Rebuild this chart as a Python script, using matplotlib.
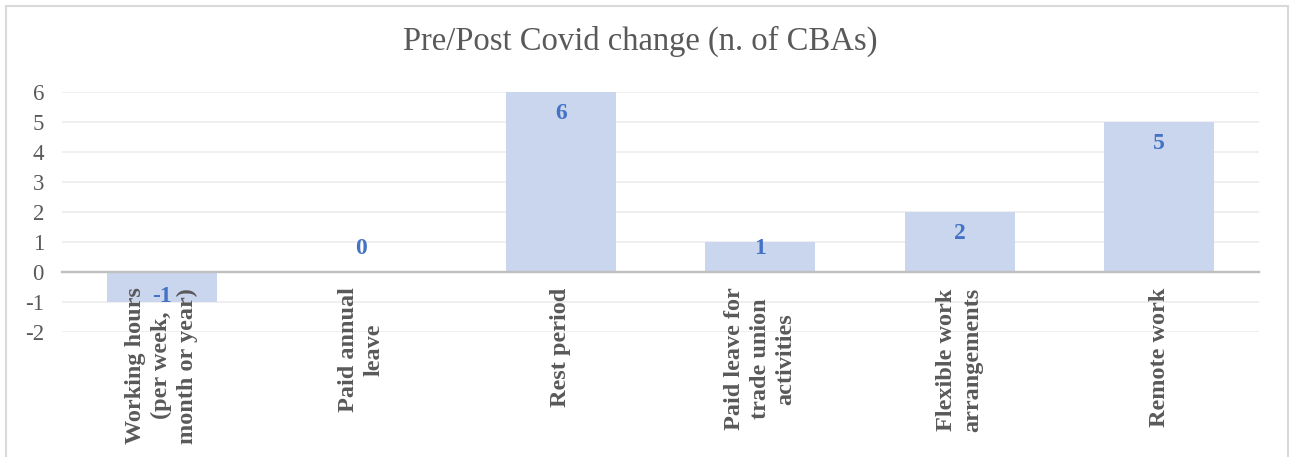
import matplotlib.pyplot as plt
from matplotlib.patches import Rectangle

# Pre/post Covid change per topic, counted in number of CBAs
categories = [
    "Working hours\n(per week,\nmonth or year)",
    "Paid annual\nleave",
    "Rest period",
    "Paid leave for\ntrade union\nactivities",
    "Flexible work\narrangements",
    "Remote work",
]
changes = [-1, 0, 6, 1, 2, 5]
yticks = [-2, -1, 0, 1, 2, 3, 4, 5, 6]

BAR_COLOR = "#C9D6EE"
LABEL_BLUE = "#4472C4"
TEXT_GRAY = "#595959"
SERIF = ["Liberation Serif", "DejaVu Serif"]

plt.rcParams["font.family"] = SERIF

fig = plt.figure(figsize=(12.92, 4.57), dpi=100)
ax = fig.add_axes([62 / 1292, 1 - 332 / 457, (1259 - 62) / 1292, 240 / 457])

x = list(range(len(categories)))
ax.bar(x, changes, width=0.55, color=BAR_COLOR, zorder=1)

# horizontal gridlines behind the bars
for t in yticks:
    if t != 0:
        ax.axhline(t, color="#EBEBEB", lw=1.1, zorder=0)

ax.set_xlim(-0.5, len(categories) - 0.5)
ax.set_ylim(min(yticks), max(yticks))
ax.set_yticks(yticks)
ax.set_yticklabels([str(t) for t in yticks], fontsize=16.5, color=TEXT_GRAY)

# category axis sits on the zero line
for side in ("top", "right", "left"):
    ax.spines[side].set_visible(False)
ax.spines["bottom"].set_position(("data", 0))
ax.spines["bottom"].set_color("#BFBFBF")
ax.spines["bottom"].set_linewidth(1.7)
ax.spines["bottom"].set_zorder(2)

ax.set_xticks(x)
ax.set_xticklabels(categories, rotation=90, fontsize=17.5, fontweight="bold",
                   color=TEXT_GRAY, linespacing=1.3, multialignment="center")
ax.tick_params(axis="x", length=0, pad=11)
ax.tick_params(axis="y", length=0, pad=13)

# value labels at the inside end of each bar
inset, floor = 0.73, 0.8
for xi, v in zip(x, changes):
    if v >= 0:
        ypos = max(v - inset, floor)
    else:
        ypos = min(v + inset, -floor)
    ax.text(xi, ypos, str(v), ha="center", va="center", fontsize=17,
            fontweight="bold", color=LABEL_BLUE, zorder=3)

fig.text(640 / 1292, 1 - 50 / 457, "Pre/Post Covid change (n. of CBAs)",
         ha="center", va="baseline", fontsize=23.5, color=TEXT_GRAY)

# chart frame
fig.patches.append(Rectangle((6 / 1292, -0.05), (1288 - 6) / 1292, 1.05 - 6 / 457,
                             transform=fig.transFigure, fill=False,
                             edgecolor="#D9D9D9", lw=1.5))

fig.savefig("out.png", dpi=100)
